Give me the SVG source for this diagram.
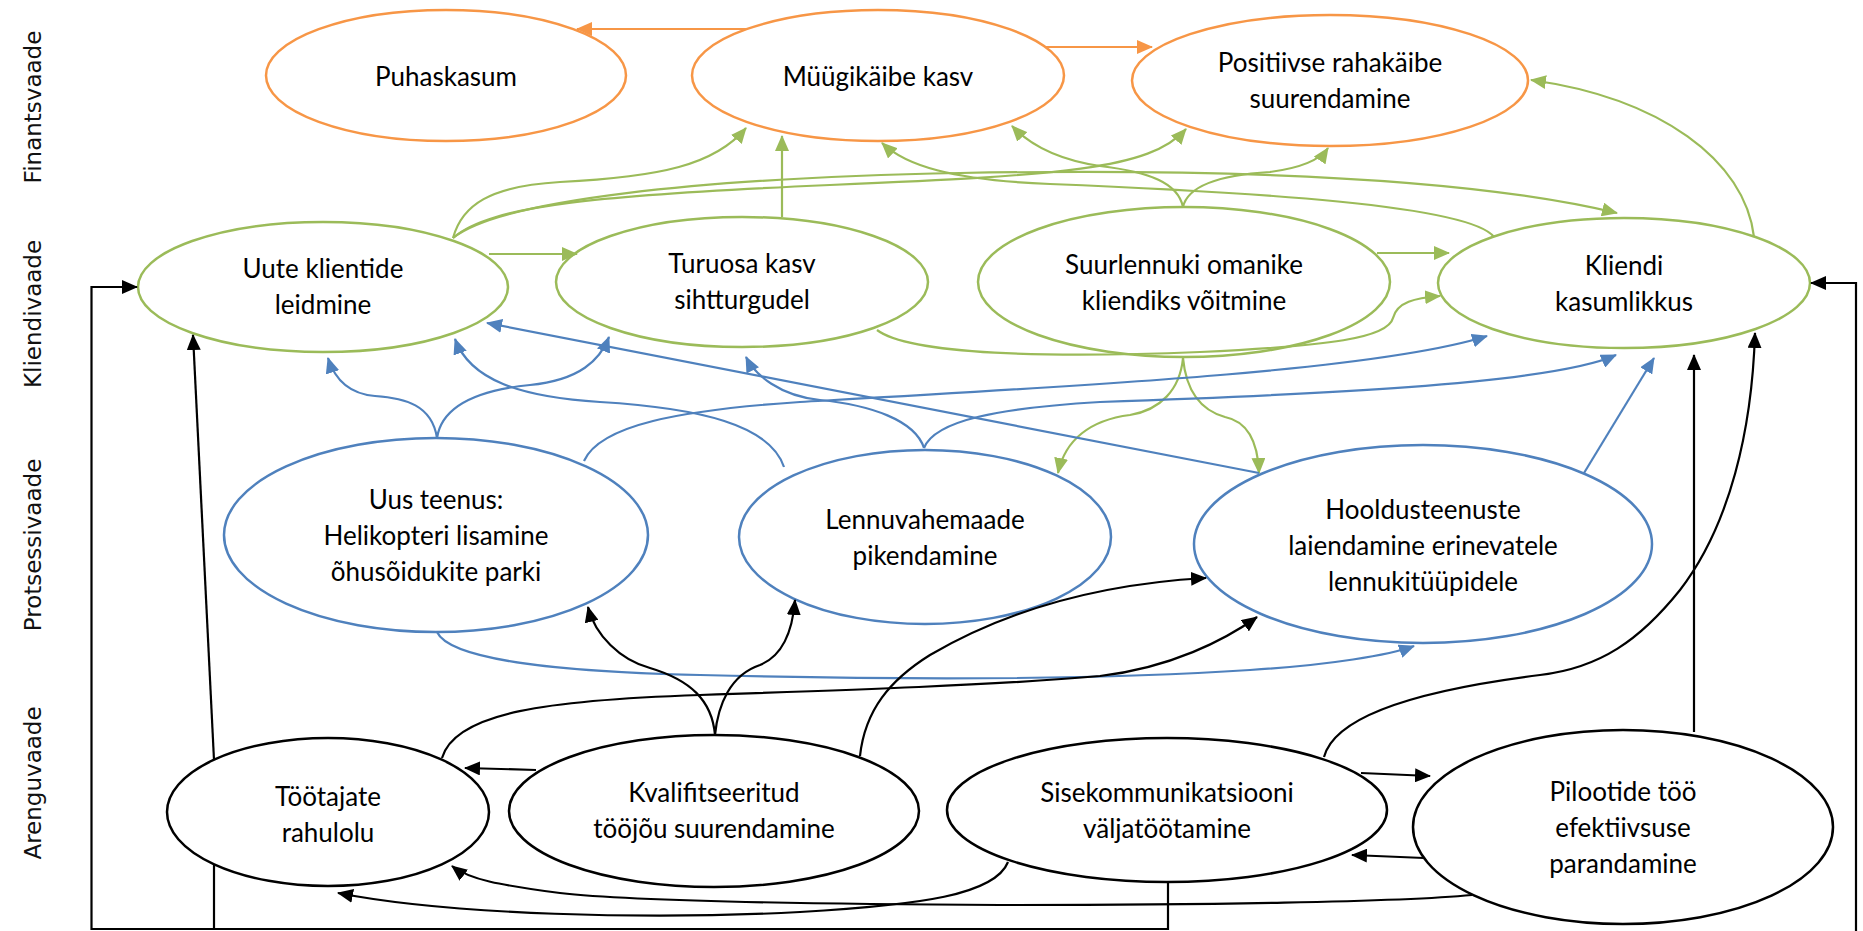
<svg xmlns="http://www.w3.org/2000/svg" width="1863" height="931" viewBox="0 0 1863 931">
<defs>
<style>
.node ellipse{fill:#fff;stroke-width:2.5}
.fin ellipse{stroke:#F79646}
.kli ellipse{stroke:#9BBB59}
.pro ellipse{stroke:#4F81BD}
.are ellipse{stroke:#000}
.node text{font-family:Lato,"Open Sans","Liberation Sans",sans-serif;font-size:26px;fill:#000;text-anchor:middle}
.lbl{font-family:"DejaVu Sans",Verdana,sans-serif;font-size:23px;fill:#111;text-anchor:middle}
.c{fill:none;stroke-width:2.2}
.o{stroke:#F79646;marker-end:url(#ao)}
.g{stroke:#9BBB59;marker-end:url(#ag)}
.b{stroke:#4F81BD;marker-end:url(#ab)}
.k{stroke:#000;marker-end:url(#ak)}
.kn{stroke:#000}
</style>
<marker id="ao" markerUnits="userSpaceOnUse" markerWidth="16" markerHeight="14" refX="15" refY="7" orient="auto"><path d="M0,0 L16,7 L0,14 z" fill="#F79646"/></marker>
<marker id="ag" markerUnits="userSpaceOnUse" markerWidth="16" markerHeight="14" refX="15" refY="7" orient="auto"><path d="M0,0 L16,7 L0,14 z" fill="#9BBB59"/></marker>
<marker id="ab" markerUnits="userSpaceOnUse" markerWidth="16" markerHeight="14" refX="15" refY="7" orient="auto"><path d="M0,0 L16,7 L0,14 z" fill="#4F81BD"/></marker>
<marker id="ak" markerUnits="userSpaceOnUse" markerWidth="16" markerHeight="14" refX="15" refY="7" orient="auto"><path d="M0,0 L16,7 L0,14 z" fill="#000"/></marker>
</defs>
<rect width="1863" height="931" fill="#fff"/>

<g id="labels">
<text class="lbl" transform="translate(41,107) rotate(-90)">Finantsvaade</text>
<text class="lbl" transform="translate(41,314) rotate(-90)">Kliendivaade</text>
<text class="lbl" transform="translate(41,545) rotate(-90)">Protsessivaade</text>
<text class="lbl" transform="translate(41,783) rotate(-90)">Arenguvaade</text>
</g>

<g id="n-puhaskasum" class="node fin"><ellipse cx="446" cy="75.5" rx="180" ry="65.5"/><text x="446" y="86">Puhaskasum</text></g>
<g id="n-myygikaive" class="node fin"><ellipse cx="878" cy="75.5" rx="186" ry="65.5"/><text x="878" y="86">Müügikäibe kasv</text></g>
<g id="n-rahakaive" class="node fin"><ellipse cx="1330" cy="80.5" rx="198" ry="65.5"/><text x="1330" y="72">Positiivse rahakäibe</text><text x="1330" y="108">suurendamine</text></g>

<g id="n-uutekliendid" class="node kli"><ellipse cx="323" cy="287" rx="185" ry="65"/><text x="323" y="278">Uute klientide</text><text x="323" y="314">leidmine</text></g>
<g id="n-turuosa" class="node kli"><ellipse cx="742" cy="282" rx="186" ry="65"/><text x="742" y="273">Turuosa kasv</text><text x="742" y="309">sihtturgudel</text></g>
<g id="n-suurlennuk" class="node kli"><ellipse cx="1184" cy="282" rx="206" ry="75"/><text x="1184" y="274">Suurlennuki omanike</text><text x="1184" y="310">kliendiks võitmine</text></g>
<g id="n-kasumlikkus" class="node kli"><ellipse cx="1624" cy="283" rx="186" ry="65"/><text x="1624" y="275">Kliendi</text><text x="1624" y="311">kasumlikkus</text></g>

<g id="n-uusteenus" class="node pro"><ellipse cx="436" cy="535" rx="212" ry="97"/><text x="436" y="509">Uus teenus:</text><text x="436" y="545">Helikopteri lisamine</text><text x="436" y="581">õhusõidukite parki</text></g>
<g id="n-lennuvahemaad" class="node pro"><ellipse cx="925" cy="537" rx="186" ry="87"/><text x="925" y="529">Lennuvahemaade</text><text x="925" y="565">pikendamine</text></g>
<g id="n-hooldus" class="node pro"><ellipse cx="1423" cy="544" rx="229" ry="99"/><text x="1423" y="519">Hooldusteenuste</text><text x="1423" y="555">laiendamine erinevatele</text><text x="1423" y="591">lennukitüüpidele</text></g>

<g id="n-tootajad" class="node are"><ellipse cx="328" cy="812" rx="161" ry="74"/><text x="328" y="806">Töötajate</text><text x="328" y="842">rahulolu</text></g>
<g id="n-kvalif" class="node are"><ellipse cx="714" cy="811" rx="205" ry="76"/><text x="714" y="802">Kvalifitseeritud</text><text x="714" y="838">tööjõu suurendamine</text></g>
<g id="n-sisekom" class="node are"><ellipse cx="1167" cy="810" rx="220" ry="72"/><text x="1167" y="802">Sisekommunikatsiooni</text><text x="1167" y="838">väljatöötamine</text></g>
<g id="n-piloodid" class="node are"><ellipse cx="1623" cy="827" rx="210" ry="97"/><text x="1623" y="801">Pilootide töö</text><text x="1623" y="837">efektiivsuse</text><text x="1623" y="873">parandamine</text></g>

<g id="connectors">
<path class="c o" d="M747,29 L577,29"/>
<path class="c o" d="M1045,47 L1152,47"/>

<path class="c g" d="M453,238 C462,205 490,186 560,182 C660,177 715,165 746,128"/>
<path class="c g" d="M782,217 L782,136"/>
<path class="c g" d="M453,238 C490,205 600,195 830,185 C1060,175 1150,170 1186,129"/>
<path class="c g" d="M453,238 C500,200 700,178 960,173 C1250,168 1480,180 1617,213"/>
<path class="c g" d="M1494,237 C1470,205 1250,192 1050,184 C950,180 905,165 882,143"/>
<path class="c g" d="M1183,207 C1178,183 1150,172 1100,166 C1060,160 1030,145 1012,126"/>
<path class="c g" d="M1183,207 C1188,185 1220,175 1270,172 C1300,168 1320,160 1328,148"/>
<path class="c g" d="M1754,237 C1745,160 1660,98 1531,80"/>
<path class="c g" d="M489,254 L577,254"/>
<path class="c g" d="M1377,253 L1449,253"/>
<path class="c g" d="M877,330 C910,355 1050,358 1200,352 C1330,346 1388,338 1393,318 C1397,302 1415,298 1440,296"/>
<path class="c g" d="M1183,358 C1180,390 1160,410 1130,415 C1090,420 1065,440 1058,473"/>
<path class="c g" d="M1183,358 C1186,390 1200,410 1225,417 C1250,422 1258,445 1259,473"/>

<path class="c b" d="M437,438 C432,405 405,398 375,396 C350,394 335,380 328,358"/>
<path class="c b" d="M437,438 C442,405 480,390 530,385 C580,380 600,360 609,337"/>
<path class="c b" d="M584,461 C600,425 680,410 800,402 C1100,385 1380,370 1487,336"/>
<path class="c b" d="M784,467 C770,425 700,408 600,402 C520,397 470,380 455,339"/>
<path class="c b" d="M924,448 C915,420 870,405 820,400 C780,396 755,375 746,357"/>
<path class="c b" d="M924,448 C935,420 1000,408 1100,402 C1300,395 1550,385 1616,355"/>
<path class="c b" d="M1259,473 L487,323"/>
<path class="c b" d="M1584,473 L1654,358"/>
<path class="c b" d="M437,632 C450,660 560,672 700,675 C900,680 1100,680 1250,670 C1330,665 1390,655 1414,646"/>

<path class="c k" d="M536,770 L465,768"/>
<path class="c k" d="M442,758 C455,712 550,700 700,695 C850,690 1000,685 1100,676 C1170,668 1225,640 1257,617"/>
<path class="c k" d="M715,735 C712,700 690,680 650,668 C620,660 595,635 588,607"/>
<path class="c k" d="M715,735 C718,705 730,675 760,665 C785,655 793,625 795,600"/>
<path class="c k" d="M860,756 C865,710 890,680 930,655 C990,620 1080,585 1206,578"/>
<path class="c k" d="M1008,862 C995,895 920,905 800,912 C650,920 450,915 338,893"/>
<path class="c k" d="M1472,895 C1400,902 1200,905 1000,905 C800,904 620,900 560,893 C500,885 470,880 452,866"/>
<path class="c k" d="M1361,773 L1430,776"/>
<path class="c k" d="M1424,858 L1352,855"/>
<path class="c k" d="M1324,757 C1335,715 1420,690 1540,675 C1600,668 1640,640 1680,590 C1730,525 1752,430 1755,333"/>
<path class="c k" d="M1694,732 L1694,355"/>
<path class="c k" d="M1168,882 L1168,929 L91.5,929 L91.5,287 L137,287"/>
<path class="c kn" d="M214,929 L214,864"/>
<path class="c k" d="M214,760 L193,335"/>
<path class="c k" d="M1856,931 L1856,283 L1811,283"/>
</g>
</svg>
